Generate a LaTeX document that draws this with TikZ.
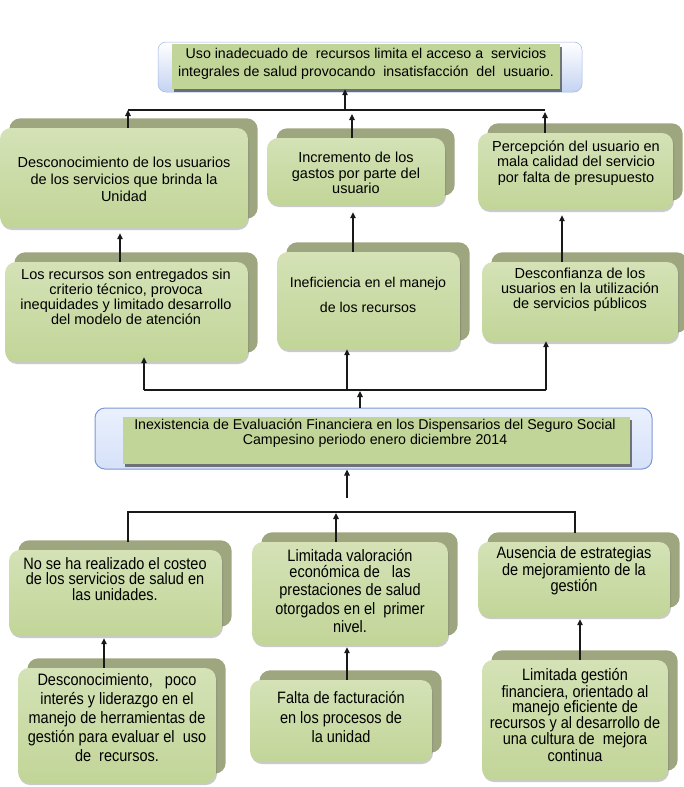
\documentclass[tikz,border=0pt]{standalone}
\usepackage{fontspec}
\setmainfont{Liberation Sans}
\newfontfamily\narrowsf[FakeStretch=0.88]{Liberation Sans}
\usetikzlibrary{fit,backgrounds,shadows,arrows.meta}
\definecolor{boxgreen}{RGB}{194,213,152}
\definecolor{boxlight}{RGB}{212,226,182}
\definecolor{backbox}{RGB}{158,166,128}
\definecolor{bannerblue}{RGB}{196,211,242}
\definecolor{bannerline}{RGB}{160,182,226}
\definecolor{centfill}{RGB}{214,225,249}
\definecolor{centtop}{RGB}{234,240,253}
\definecolor{centline}{RGB}{125,152,214}
\definecolor{lineblack}{RGB}{25,25,25}
\tikzset{
  gfront/.style={inner sep=0pt, rounded corners=11pt, top color=boxlight, bottom color=boxgreen,
    drop shadow={shadow xshift=1pt, shadow yshift=-2pt, opacity=0.35, fill=black!60}},
  gback/.style={fill=backbox, rounded corners=11pt},
  greenrect/.style={inner sep=0pt, fill=boxgreen,
    drop shadow={shadow xshift=1.5pt, shadow yshift=-2.5pt, opacity=0.75, fill=black!70}},
  bannerbg/.style={inner sep=0pt, rounded corners=8pt, top color=white, bottom color=bannerblue, draw=bannerline, line width=0.5pt},
  centbg/.style={inner sep=0pt, rounded corners=10pt, top color=centtop, bottom color=centfill, draw=centline, line width=1pt},
  txt/.style={align=center, inner sep=0pt, text=black},
  ntxt/.style={align=center, inner sep=0pt, text=black},
  link/.style={draw=lineblack, line width=1.1pt},
  arr/.style={link, -{Triangle[length=6pt,width=5.5pt]}},
}
\newcommand\greenbox[3]{%
  \node[gfront, fit={#2 #3}] (#1) {};
  \begin{scope}[on background layer]
    \fill[gback] ([shift={(9.5,-9.5)}]#1.south west) rectangle ([shift={(9.5,-9.5)}]#1.north east);
  \end{scope}}
\begin{document}
\begin{tikzpicture}[x=1pt,y=-1pt]
\useasboundingbox (0,0) rectangle (684,787);

% ---- top banner
\node[bannerbg, fit={(158,42) (582,92)}] (banner) {};
\node[greenrect, fit={(172,44) (560,89)}] (bannerin) {};
\node[txt, font=\fontsize{14.2}{18}\selectfont] (bannertxt) at (366,64)
  {Uso inadecuado de~ recursos limita el acceso a~ servicios\\integrales de salud provocando~ insatisfacción~ del~ usuario.};

% ---- effects row 1
\greenbox{r1a}{(0,128)}{(248,228)}
\node[txt, font=\fontsize{14.5}{17}\selectfont] (r1at) at (124,179)
  {Desconocimiento de los usuarios\\de los servicios que brinda la\\Unidad};
\greenbox{r1b}{(267,138)}{(445,205)}
\node[txt, font=\fontsize{14.5}{15.5}\selectfont] (r1bt) at (356,173)
  {Incremento de los\\gastos por parte del\\usuario};
\greenbox{r1c}{(478,133)}{(673,210)}
\node[txt, font=\fontsize{14.5}{15.5}\selectfont] (r1ct) at (576,163)
  {Percepción del usuario en\\mala calidad del servicio\\por falta de presupuesto};

% ---- effects row 2
\greenbox{r2a}{(5,262)}{(248,362)}
\node[txt, font=\fontsize{14.5}{14.8}\selectfont] (r2at) at (126,297)
  {Los recursos son entregados sin\\criterio técnico, provoca\\inequidades y limitado desarrollo\\del modelo de atención};
\greenbox{r2b}{(277,252)}{(460,350)}
\node[txt, font=\fontsize{14.2}{25}\selectfont] (r2bt) at (368,295)
  {Ineficiencia en el manejo\\de los recursos};
\greenbox{r2c}{(482,262)}{(678,342)}
\node[txt, font=\fontsize{14.5}{15}\selectfont] (r2ct) at (580,290)
  {Desconfianza de los\\usuarios en la utilización\\de servicios públicos};

% ---- central problem
\node[centbg, fit={(95,408) (652,469)}] (centout) {};
\node[greenrect, fit={(123,417) (630,464)}] (centin) {};
\node[txt, font=\fontsize{14.2}{15.5}\selectfont] (centt) at (375,433)
  {Inexistencia de Evaluación Financiera en los Dispensarios del Seguro Social\\Campesino periodo enero diciembre 2014};

% ---- causes row 1
\greenbox{b1a}{(9,550)}{(222,636)}
\node[ntxt, font=\narrowsf\fontsize{16.5}{15.2}\selectfont] (b1at) at (115,579)
  {No se ha realizado el costeo\\de los servicios de salud en\\las unidades.};
\greenbox{b1b}{(252,542)}{(448,645)}
\node[ntxt, font=\narrowsf\fontsize{16.5}{16}\selectfont] (b1bt) at (350,591)
  {Limitada valoración\\económica de~~ las\\[2pt]prestaciones de salud\\[3pt]otorgados en el~ primer\\[2pt]nivel.};
\greenbox{b1c}{(478,542)}{(670,617)}
\node[ntxt, font=\narrowsf\fontsize{16.5}{15}\selectfont] (b1ct) at (574,571)
  {Ausencia de estrategias\\de mejoramiento de la\\gestión};

% ---- causes row 2
\greenbox{b2a}{(18,668)}{(216,783)}
\node[ntxt, font=\narrowsf\fontsize{16.5}{19}\selectfont] (b2at) at (117,718)
  {Desconocimiento,~~ poco\\interés y liderazgo en el\\manejo de herramientas de\\gestión para evaluar el~ uso\\de~ recursos.};
\greenbox{b2b}{(250,680)}{(432,762)}
\node[ntxt, font=\narrowsf\fontsize{16.5}{19.5}\selectfont] (b2bt) at (341,717)
  {Falta de facturación\\en los procesos de\\la unidad};
\greenbox{b2c}{(482,660)}{(668,780)}
\node[ntxt, font=\narrowsf\fontsize{16.5}{15.2}\selectfont] (b2ct) at (575,715)
  {Limitada gestión\\financiera, orientado al\\manejo eficiente de\\recursos y al desarrollo de\\una cultura de~ mejora\\continua};

% ---- connectors: effects
\coordinate (hL) at (128,110);
\coordinate (hR) at (545,110);
\coordinate (hC) at (345,110);
\draw[link] (hL) -- (hR);
\draw[arr] (hC) -- (hC |- bannerin.south);
\draw[arr] (r1a.north -| hL) -- (hL);
\draw[arr, shorten >=4pt] ([xshift=-4pt]r1b.north) -- ([xshift=-4pt]r1b.north |- hL);
\draw[arr, shorten >=2pt] (r1c.north -| hR) -- (hR);

\draw[arr, shorten >=5pt] ([xshift=-6.5pt]r2a.north) -- ([xshift=-6.5pt]r2a.north |- r1a.south);
\draw[arr, shorten >=7pt] ([xshift=-15.5pt]r2b.north) -- ([xshift=-15.5pt]r2b.north |- r1b.south);
\draw[arr, shorten >=5pt] ([xshift=-18pt]r2c.north) -- ([xshift=-18pt]r2c.north |- r1c.south);

\coordinate (m1) at (144,390);
\coordinate (m2) at (347,390);
\coordinate (m3) at (546,390);
\draw[link] (m1) -- (m3);
\draw[arr, shorten >=-5pt] (m1) -- (m1 |- r2a.south);
\draw[arr, shorten >=-1pt] (m2) -- (m2 |- r2b.south);
\draw[arr, shorten >=-1pt] (m3) -- (m3 |- r2c.south);
\draw[arr, shorten >=1pt] ([xshift=-13.5pt]centout.north) -- ([xshift=-13.5pt]centout.north |- m1);

% ---- connectors: causes
\coordinate (c2) at (347,498);
\draw[arr] (c2) -- (c2 |- centout.south);
\coordinate (l1) at (128,512);
\coordinate (l3) at (575,512);
\draw[link, shorten <=8pt, shorten >=9pt] (l1 |- b1a.north) -- (l1) -- (l3) -- (l3 |- b1c.north);
\draw[arr, shorten >=1pt] ([xshift=-14pt]b1b.north) -- ([xshift=-14pt]b1b.north |- l1);

\draw[arr, shorten >=2pt] ([xshift=-13pt]b2a.north) -- ([xshift=-13pt]b2a.north |- b1a.south);
\draw[arr, shorten >=2pt] ([xshift=6pt]b2b.north) -- ([xshift=6pt]b2b.north |- b1b.south);
\draw[arr, shorten >=2pt] ([xshift=5pt]b2c.north) -- ([xshift=5pt]b2c.north |- b1c.south);
\end{tikzpicture}
\end{document}
